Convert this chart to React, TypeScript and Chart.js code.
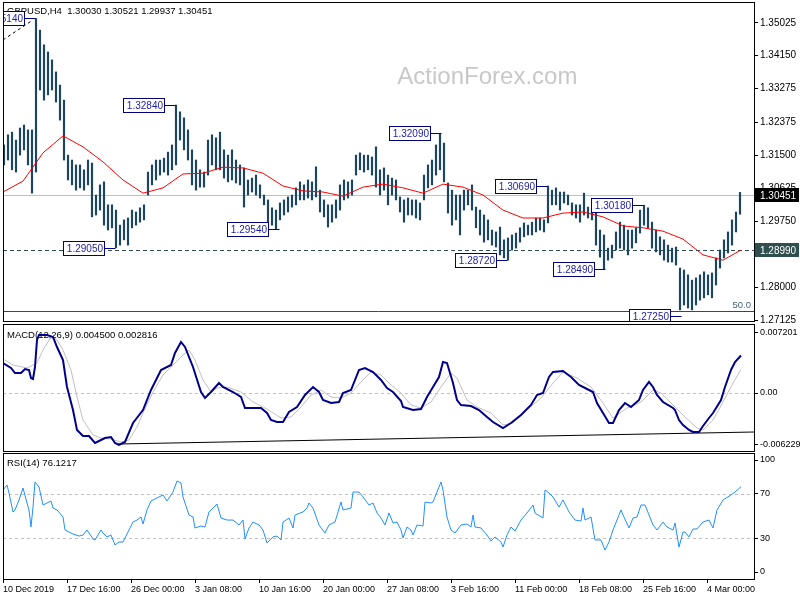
import React, { useEffect, useRef } from 'react';
import { Chart, registerables } from 'chart.js';

Chart.register(...registerables);

const FONT = '"Liberation Sans", Arial, Helvetica, sans-serif';

// ---------------- data ----------------
const symbolTitle = 'GBPUSD,H4';
const lastBarOHLC = [1.3003, 1.30521, 1.29937, 1.30451];
const watermark = 'ActionForex.com';

// 8-hour bars (each covers two H4 periods), high / low
const barHighs = [
  1.3178, 1.3205, 1.3212, 1.3191, 1.3223, 1.3231, 1.3218, 1.3218, 1.3514, 1.3483,
  1.3444, 1.3425, 1.3404, 1.3372, 1.3337, 1.3297, 1.3151, 1.3138, 1.3125, 1.3125,
  1.3112, 1.3138, 1.3130, 1.3045, 1.3072, 1.3080, 1.3019, 1.3019, 1.3005, 1.2965,
  1.2979, 1.2984, 1.3005, 1.3000, 1.3011, 1.3019, 1.3106, 1.3125, 1.3138, 1.3138,
  1.3143, 1.3159, 1.3178, 1.3284, 1.3266, 1.3250, 1.3218, 1.3165, 1.3138, 1.3112,
  1.3106, 1.3191, 1.3205, 1.3197, 1.3212, 1.3165, 1.3151, 1.3165, 1.3138, 1.3125,
  1.3117, 1.3085, 1.3090, 1.3098, 1.3072, 1.3045, 1.3032, 1.3011, 1.3005, 1.3024,
  1.3032, 1.3040, 1.3045, 1.3064, 1.3080, 1.3072, 1.3085, 1.3080, 1.3120, 1.3058,
  1.3032, 1.3019, 1.3019, 1.3032, 1.3072, 1.3085, 1.3080, 1.3085, 1.3151, 1.3157,
  1.3151, 1.3151, 1.3146, 1.3173, 1.3112, 1.3117, 1.3098, 1.3090, 1.3085, 1.3040,
  1.3032, 1.3037, 1.3032, 1.3032, 1.3024, 1.3098, 1.3125, 1.3138, 1.3178, 1.3209,
  1.3183, 1.3077, 1.3058, 1.3045, 1.3045, 1.3058, 1.3058, 1.3072, 1.3013, 1.3005,
  1.2992, 1.2979, 1.2952, 1.2947, 1.2960, 1.2926, 1.2931, 1.2939, 1.2944, 1.2958,
  1.2971, 1.2965, 1.2973, 1.2984, 1.2984, 1.2979, 1.3069, 1.3058, 1.3064, 1.3053,
  1.3053, 1.3045, 1.3024, 1.3019, 1.3019, 1.3050, 1.3013, 1.3011, 1.3000, 1.2952,
  1.2939, 1.2904, 1.2912, 1.2947, 1.2973, 1.2965, 1.2952, 1.2952, 1.2958, 1.3005,
  1.3018, 1.3011, 1.2973, 1.2952, 1.2934, 1.2926, 1.2912, 1.2904, 1.2907, 1.2851,
  1.2846, 1.2833, 1.2819, 1.2825, 1.2833, 1.2841, 1.2833, 1.2838, 1.2878, 1.2899,
  1.2926, 1.2947, 1.2979, 1.3000, 1.3052,
];
const barLows = [
  1.3125, 1.3138, 1.3112, 1.3106, 1.3151, 1.3165, 1.3125, 1.3050, 1.3106, 1.3324,
  1.3297, 1.3311, 1.3324, 1.3292, 1.3244, 1.3138, 1.3085, 1.3072, 1.3058, 1.3064,
  1.3058, 1.3072, 1.2987, 1.2992, 1.3005, 1.2965, 1.2952, 1.2958, 1.2905, 1.2912,
  1.2926, 1.2912, 1.2958, 1.2965, 1.2973, 1.2979, 1.3045, 1.3072, 1.3085, 1.3098,
  1.3106, 1.3098, 1.3112, 1.3125, 1.3191, 1.3165, 1.3138, 1.3072, 1.3058, 1.3066,
  1.3066, 1.3098, 1.3125, 1.3112, 1.3112, 1.3090, 1.3080, 1.3085, 1.3077, 1.3072,
  1.3013, 1.3045, 1.3053, 1.3045, 1.3037, 1.3019, 1.2958, 1.2965, 1.2954, 1.2979,
  1.2992, 1.3000, 1.3013, 1.3019, 1.3032, 1.3032, 1.3037, 1.3032, 1.3040, 1.3000,
  1.2987, 1.2960, 1.2973, 1.2984, 1.3005, 1.3032, 1.3037, 1.3045, 1.3098, 1.3112,
  1.3106, 1.3112, 1.3098, 1.3066, 1.3045, 1.3058, 1.3019, 1.3045, 1.3032, 1.3000,
  1.2973, 1.2992, 1.2992, 1.2984, 1.2979, 1.3032, 1.3064, 1.3072, 1.3098, 1.3112,
  1.3080, 1.2997, 1.2965, 1.2979, 1.2939, 1.3005, 1.3019, 1.3005, 1.2958, 1.2939,
  1.2920, 1.2926, 1.2912, 1.2907, 1.2886, 1.2878, 1.2872, 1.2899, 1.2904, 1.2920,
  1.2934, 1.2939, 1.2939, 1.2947, 1.2952, 1.2947, 1.2971, 1.3019, 1.3019, 1.3005,
  1.3024, 1.3019, 1.2992, 1.2984, 1.2973, 1.2992, 1.2984, 1.2979, 1.2912, 1.2880,
  1.2849, 1.2872, 1.2878, 1.2899, 1.2904, 1.2899, 1.2886, 1.2904, 1.2918, 1.2944,
  1.2965, 1.2958, 1.2904, 1.2894, 1.2886, 1.2872, 1.2867, 1.2867, 1.2859, 1.2740,
  1.2753, 1.2745, 1.2740, 1.2753, 1.2766, 1.2772, 1.2780, 1.2772, 1.2806, 1.2851,
  1.2878, 1.2891, 1.2912, 1.2947, 1.2994,
];

// moving average (H4 bar index -> value)
const maIndex = [0, 10, 20, 30, 40, 50, 60, 70, 80, 90, 100, 110, 120, 130, 140, 150, 160, 170, 180, 190,
  200, 210, 220, 230, 240, 250, 260, 270, 280, 290, 300, 310, 320, 330, 340, 350, 360, 369];
const maValues = [1.3053, 1.3082, 1.3157, 1.3202, 1.3173, 1.3133, 1.3085, 1.3050, 1.3064, 1.3101,
  1.3103, 1.3119, 1.3117, 1.3103, 1.3069, 1.3056, 1.3053, 1.3042, 1.3066, 1.3074,
  1.3064, 1.3050, 1.3074, 1.3066, 1.3045, 1.3005, 1.2984, 1.2984, 1.2997, 1.3000,
  1.2987, 1.2963, 1.2958, 1.2949, 1.2928, 1.2886, 1.2872, 1.2899];

const priceTicks = [1.35025, 1.3415, 1.33275, 1.32375, 1.315, 1.30625, 1.2975, 1.28875, 1.28, 1.27125];
const bidPrice = 1.30451;
const supportLevel = 1.2899;
const fibLevel = 1.2737;
const fibLabel = '50.0';
const fibTrendIndex = [0, 15];
const fibTrendValues = [1.3457, 1.351];

// swing labels
const swingIndex = [16, 86, 56, 138, 219, 272, 252, 320, 301, 339];
const swingValues = [1.3514, 1.3284, 1.2905, 1.2954, 1.3209, 1.3069, 1.2872, 1.3018, 1.2849, 1.2725];

// MACD
const macdParams = '12,26,9';
const macdLast = 0.0045;
const signalLast = 0.002816;
const macdIndex = [0, 4, 6, 9, 11, 13, 14, 15, 16, 17, 18, 22, 25, 27, 30, 32, 35, 37, 40, 43,
  46, 49, 51, 54, 56, 58, 61, 65, 70, 74, 79, 84, 86, 89, 91, 95, 99, 101, 104, 108,
  110, 115, 119, 121, 125, 129, 132, 134, 137, 140, 143, 147, 151, 155, 158, 160, 164, 168, 170, 174,
  178, 181, 185, 189, 192, 195, 199, 200, 205, 209, 212, 215, 218, 220, 222, 225, 227, 229, 234, 238,
  242, 245, 250, 254, 259, 264, 267, 270, 273, 275, 280, 284, 288, 293, 295, 297, 300, 303, 305, 308,
  311, 314, 318, 320, 323, 325, 327, 330, 335, 336, 338, 340, 343, 345, 348, 350, 353, 355, 359, 361,
  364, 366, 369];
const macdValues = [0.0036, 0.003, 0.0024, 0.0024, 0.00288, 0.00276, 0.0018, 0.00168, 0.00312, 0.00636,
  0.00696, 0.00696, 0.00672, 0.00552, 0.00396, 0.00072, -0.00204, -0.00444, -0.00516, -0.00516,
  -0.006, -0.00564, -0.0054, -0.00528, -0.006, -0.00624, -0.00588, -0.0036, -0.00204, 0.00036,
  0.00276, 0.00336, 0.0048, 0.00612, 0.00552, 0.00312, 0.00012, -0.0006, 0.00012, 0.0012,
  0.00072, 0.00012, -0.00048, -0.0018, -0.0018, -0.0018, -0.0024, -0.00324, -0.00348, -0.00348,
  -0.00228, -0.00168, -0.00024, 0.00072, 0.00012, -0.00084, -0.0012, -0.00108, 0, 0.00036,
  0.00276, 0.003, 0.00252, 0.00156, 0.0006, 0.00012, -0.00096, -0.00168, -0.00204, -0.00192,
  -0.00048, 0.00072, 0.00192, 0.00372, 0.0036, 0.0012, -0.00084, -0.00144, -0.00156, -0.00204,
  -0.00288, -0.00348, -0.0042, -0.0036, -0.00264, -0.00144, -0.00024, 0, 0.00192, 0.00252,
  0.00264, 0.00192, 0.00096, 0.00036, 0.00012, -0.0012, -0.0024, -0.0036, -0.0036, -0.00204,
  -0.0012, -0.00168, -0.00084, 0.00036, 0.00132, 0.00072, -0.00024, -0.00108, -0.0018, -0.00204,
  -0.00324, -0.00384, -0.00444, -0.00468, -0.00468, -0.00396, -0.003, -0.0024, -0.00084, 0.00072,
  0.00276, 0.00372, 0.0045];
const signalIndex = [0, 5, 12, 17, 20, 24, 27, 30, 34, 37, 40, 45, 49, 54, 59, 63, 67, 70, 75, 80,
  85, 90, 93, 96, 100, 104, 107, 112, 119, 125, 132, 139, 144, 149, 154, 159, 164, 169, 174, 179,
  184, 189, 194, 199, 204, 209, 214, 219, 224, 227, 232, 237, 244, 250, 255, 262, 269, 275, 280, 287,
  294, 300, 305, 312, 319, 325, 329, 334, 340, 347, 350, 355, 360, 365, 369];
const signalValues = [0.00408, 0.00336, 0.003, 0.0036, 0.00516, 0.00672, 0.00636, 0.00516, 0.00276, -0.00048,
  -0.00324, -0.00504, -0.0054, -0.00552, -0.00588, -0.00564, -0.00408, -0.0024, 0.00012, 0.00216,
  0.00336, 0.00456, 0.00516, 0.00396, 0.00156, 0.00012, 0.0006, 0.00072, 0.00012, -0.00108,
  -0.00192, -0.003, -0.00288, -0.00168, -0.00024, 0.00036, -0.00048, -0.0006, 0, 0.00132,
  0.00252, 0.00216, 0.00096, 0, -0.00144, -0.0018, -0.00108, 0.00072, 0.0024, 0.0018,
  -0.00084, -0.00168, -0.0024, -0.00384, -0.0036, -0.00204, -0.0006, 0.0012, 0.00252, 0.0018,
  0.00072, -0.0012, -0.003, -0.0018, -0.00108, 0.00036, 0, -0.0012, -0.00264, -0.0042,
  -0.00444, -0.00324, -0.00108, 0.0012, 0.002816];
const macdTicks = [0.007201, 0, -0.006229];
const macdTrendIndex = [57.5, 375.5];
const macdTrendValues = [-0.00612, -0.00468];

// RSI
const rsiPeriod = 14;
const rsiLast = 76.1217;
const rsiIndex = [0, 2, 3, 5, 6, 8, 10, 12, 13, 14, 15, 16, 18, 20, 22, 24, 25, 27, 30, 31,
  34, 35, 38, 40, 42, 45, 46, 49, 50, 52, 54, 56, 58, 60, 63, 65, 67, 69, 70, 72,
  74, 77, 80, 82, 85, 87, 89, 90, 93, 95, 96, 99, 101, 103, 107, 109, 112, 115, 118, 120,
  121, 123, 125, 128, 130, 132, 135, 137, 139, 140, 143, 145, 146, 150, 152, 153, 155, 158, 161, 163,
  166, 169, 170, 174, 175, 178, 180, 183, 185, 187, 189, 191, 193, 195, 197, 199, 200, 202, 204, 205,
  207, 210, 211, 214, 215, 217, 219, 220, 222, 224, 226, 229, 232, 234, 235, 236, 239, 242, 244, 246,
  249, 250, 252, 254, 256, 259, 262, 265, 266, 270, 271, 273, 275, 278, 280, 283, 286, 289, 290, 291,
  294, 296, 299, 301, 303, 305, 309, 310, 313, 315, 317, 319, 321, 323, 325, 327, 330, 332, 335, 336,
  338, 340, 341, 343, 345, 347, 350, 353, 355, 357, 360, 364, 366, 369];
const rsiValues = [73.2, 77.7, 70.5, 53.6, 55.4, 64.3, 75, 61.6, 55.4, 40.2,
  58, 80.4, 75.9, 59.8, 61.6, 63.4, 57.1, 55.4, 49.1, 37.5,
  34.8, 33.9, 32.1, 33, 37.5, 29.5, 28.6, 37.5, 34.8, 31.3,
  33, 24.1, 26.8, 26.8, 37.5, 44.6, 46.4, 49.1, 42.9, 55.4,
  63.4, 66.1, 68.8, 63.4, 71.4, 81.3, 79.5, 67, 50.9, 49.1,
  39.3, 41.1, 40.2, 53.6, 60.7, 48.2, 46.4, 46.4, 42, 46.4,
  29.5, 39.3, 44.6, 42, 37.5, 25.9, 31.3, 32.1, 28.6, 44.6,
  48.2, 39.3, 50.9, 53.6, 57.1, 61.6, 57.1, 42, 34.8, 42,
  44.6, 62.5, 55.4, 57.1, 71.4, 71.4, 67, 59.8, 61.6, 52.7,
  48.2, 42, 52.7, 43.8, 44.6, 37.5, 30.4, 40.2, 37.5, 33,
  42, 41.1, 62.5, 61.6, 62.5, 71.4, 80.4, 73.2, 49.1, 37.5,
  34.8, 42, 42.9, 40.2, 50.9, 40.2, 39.3, 33, 27.7, 31.3,
  26.8, 22.3, 33, 40.2, 36.6, 46.4, 52.7, 59.8, 52.7, 48.2,
  73.2, 70.5, 67, 58, 64.3, 53.6, 46.4, 45.5, 57.1, 46.4,
  49.1, 28.6, 28.6, 19.6, 26.8, 37.5, 55.4, 50.9, 39.3, 48.2,
  49.1, 59.8, 59.8, 50.9, 42, 37.5, 44.6, 40.2, 37.5, 43.8,
  22.3, 35.7, 35.7, 31.3, 38.4, 38.4, 44.6, 46.4, 39.3, 55.4,
  64.3, 68.8, 71.4, 76.1217];
const rsiTicks = [100, 70, 30, 0];
const rsiLevels = [70, 30];

// time axis
const xTickIndex = [0, 32, 64, 96, 128, 160, 192, 224, 256, 288, 320, 352];
const xTickLabels = ['10 Dec 2019', '17 Dec 16:00', '26 Dec 00:00', '3 Jan 08:00', '10 Jan 16:00', '20 Jan 00:00',
  '27 Jan 08:00', '3 Feb 16:00', '11 Feb 00:00', '18 Feb 08:00', '25 Feb 16:00', '4 Mar 00:00'];

// axis ranges
const X_MIN = 0;
const X_MAX = 375.5;
const PRICE_MIN = 1.27078;
const PRICE_MAX = 1.35577;
const MACD_MIN = -0.00708;
const MACD_MAX = 0.00828;
const RSI_MIN = -7.14;
const RSI_MAX = 106.25;

// ---------------- helpers ----------------
const makeX = (show: boolean): any => ({
  type: 'linear',
  min: X_MIN,
  max: X_MAX,
  offset: false,
  display: show,
  afterBuildTicks: (s: any) => {
    s.ticks = xTickIndex.map((v) => ({ value: v }));
  },
  afterFit: (s: any) => {
    if (show) s.height = 20;
    s.paddingLeft = 0;
    s.paddingRight = 0;
  },
  ticks: {
    autoSkip: false,
    maxRotation: 0,
    minRotation: 0,
    align: 'start',
    padding: 1,
    color: '#000',
    font: { family: FONT, size: 9 },
    callback: (_v: any, i: number) => xTickLabels[i],
  },
  grid: { display: true, drawOnChartArea: false, drawTicks: true, tickLength: 3, color: '#000' },
  border: { display: false },
});

const makeY = (min: number, max: number, vals: number[], fmt: (v: number) => string, size: number): any => ({
  type: 'linear',
  position: 'right',
  min,
  max,
  afterBuildTicks: (s: any) => {
    s.ticks = vals.map((v) => ({ value: v }));
  },
  afterFit: (s: any) => {
    s.width = 46;
    s.paddingTop = 0;
    s.paddingBottom = 0;
  },
  ticks: { autoSkip: false, color: '#000', padding: 2, font: { family: FONT, size }, callback: (v: any) => fmt(Number(v)) },
  grid: { display: true, drawOnChartArea: false, drawTicks: true, tickLength: 4, color: '#000' },
  border: { display: false },
});

function hLine(ctx: CanvasRenderingContext2D, a: any, py: number, color: string, dash: number[]) {
  const yy = Math.round(py) + 0.5;
  ctx.save();
  ctx.strokeStyle = color;
  ctx.lineWidth = 1;
  ctx.setLineDash(dash);
  ctx.beginPath();
  ctx.moveTo(a.left, yy);
  ctx.lineTo(a.right, yy);
  ctx.stroke();
  ctx.restore();
}

function drawFrame(chart: any) {
  const { ctx, chartArea: a } = chart;
  ctx.save();
  ctx.strokeStyle = '#000';
  ctx.lineWidth = 1;
  ctx.setLineDash([]);
  ctx.strokeRect(Math.round(a.left) + 0.5, Math.round(a.top) + 0.5, Math.round(a.right - a.left), Math.round(a.bottom - a.top) - 1);
  ctx.restore();
}

function panelTitle(chart: any, text: string, dy: number) {
  const { ctx, chartArea: a } = chart;
  ctx.save();
  ctx.fillStyle = '#000';
  ctx.font = `9.5px ${FONT}`;
  ctx.textAlign = 'left';
  ctx.textBaseline = 'middle';
  ctx.fillText(text, a.left + 4, a.top + dy);
  ctx.restore();
}

const mainDecor = {
  id: 'mainDecor',
  beforeDatasetsDraw(chart: any) {
    const { ctx, chartArea: a, scales } = chart;
    const y = scales.y;
    ctx.save();
    ctx.fillStyle = '#c8c8c8';
    ctx.font = `24px ${FONT}`;
    ctx.textAlign = 'center';
    ctx.textBaseline = 'middle';
    ctx.fillText(watermark, a.left + (a.right - a.left) * 0.645, a.top + 75);
    ctx.restore();
    hLine(ctx, a, y.getPixelForValue(bidPrice), '#c0c0c0', []);
    hLine(ctx, a, y.getPixelForValue(supportLevel), '#2f4f4f', [4, 3]);
    hLine(ctx, a, y.getPixelForValue(fibLevel), '#2f4f4f', []);
    panelTitle(chart, `${symbolTitle}  ${lastBarOHLC.map((v) => v.toFixed(5)).join(' ')}`, 9);
  },
  afterDatasetsDraw(chart: any) {
    const { ctx, chartArea: a, scales } = chart;
    const x = scales.x;
    const y = scales.y;
    ctx.save();
    ctx.beginPath();
    ctx.rect(a.left, a.top, a.right - a.left, a.bottom - a.top);
    ctx.clip();
    ctx.font = `10px ${FONT}`;
    ctx.textBaseline = 'middle';
    swingValues.forEach((v, i) => {
      const px = Math.round(x.getPixelForValue(swingIndex[i]));
      const py = Math.round(y.getPixelForValue(v));
      const text = v.toFixed(5);
      const w = Math.ceil(ctx.measureText(text).width) + 5;
      const h = 15;
      const right = px - 10;
      const left = right - w;
      ctx.fillStyle = '#fff';
      ctx.fillRect(left, py - 7, w, h);
      ctx.strokeStyle = '#000080';
      ctx.lineWidth = 1;
      ctx.strokeRect(left + 0.5, py - 7 + 0.5, w - 1, h - 1);
      ctx.beginPath();
      ctx.moveTo(right, py + 0.5);
      ctx.lineTo(px + 0.5, py + 0.5);
      ctx.stroke();
      ctx.fillStyle = '#1c1ca8';
      ctx.textAlign = 'right';
      ctx.fillText(text, right - 2, py + 1);
    });
    const fy = Math.round(y.getPixelForValue(fibLevel));
    ctx.fillStyle = '#46657a';
    ctx.font = `9.5px ${FONT}`;
    ctx.textAlign = 'right';
    ctx.textBaseline = 'bottom';
    ctx.fillText(fibLabel, a.right - 3, fy - 1);
    ctx.restore();
  },
  afterDraw(chart: any) {
    const { ctx, chartArea: a, scales } = chart;
    const y = scales.y;
    drawFrame(chart);
    const box = (v: number, bg: string) => {
      const py = Math.round(y.getPixelForValue(v));
      ctx.save();
      ctx.fillStyle = bg;
      ctx.fillRect(a.right + 1, py - 7, 44, 14);
      ctx.fillStyle = '#fff';
      ctx.font = `10px ${FONT}`;
      ctx.textAlign = 'left';
      ctx.textBaseline = 'middle';
      ctx.fillText(v.toFixed(5), a.right + 6, py + 1);
      ctx.restore();
    };
    box(bidPrice, '#000');
    box(supportLevel, '#2f4f4f');
  },
};

const macdDecor = {
  id: 'macdDecor',
  beforeDatasetsDraw(chart: any) {
    const { ctx, chartArea: a, scales } = chart;
    hLine(ctx, a, scales.y.getPixelForValue(0), '#c0c0c0', [3, 3]);
    panelTitle(chart, `MACD(${macdParams}) ${macdLast.toFixed(6)} ${signalLast.toFixed(6)}`, 11);
  },
  afterDraw(chart: any) {
    drawFrame(chart);
  },
};

const rsiDecor = {
  id: 'rsiDecor',
  beforeDatasetsDraw(chart: any) {
    const { ctx, chartArea: a, scales } = chart;
    rsiLevels.forEach((lv) => hLine(ctx, a, scales.y.getPixelForValue(lv), '#c0c0c0', [3, 3]));
    panelTitle(chart, `RSI(${rsiPeriod}) ${rsiLast.toFixed(4)}`, 10);
  },
  afterDraw(chart: any) {
    drawFrame(chart);
  },
};

const baseOptions = (padding: any): any => ({
  responsive: false,
  maintainAspectRatio: false,
  animation: false,
  events: [],
  layout: { padding },
  plugins: { legend: { display: false }, tooltip: { enabled: false }, title: { display: false } },
});

const pts = (xs: number[], ys: number[]) => xs.map((x, i) => ({ x, y: ys[i] }));

export default function App() {
  const mainRef = useRef<HTMLCanvasElement>(null);
  const macdRef = useRef<HTMLCanvasElement>(null);
  const rsiRef = useRef<HTMLCanvasElement>(null);

  useEffect(() => {
    const charts: Chart[] = [];

    const mainOpts = baseOptions({ left: 3, top: 2, right: 0, bottom: 1 });
    mainOpts.scales = {
      x: makeX(false),
      y: makeY(PRICE_MIN, PRICE_MAX, priceTicks, (v) => v.toFixed(5), 10),
    };
    charts.push(
      new Chart(mainRef.current as HTMLCanvasElement, {
        type: 'bar',
        data: {
          datasets: [
            {
              type: 'line',
              data: pts(maIndex, maValues),
              borderColor: '#ff0000',
              borderWidth: 1,
              pointRadius: 0,
              tension: 0,
              order: 0,
            } as any,
            {
              type: 'line',
              data: pts(fibTrendIndex, fibTrendValues),
              borderColor: '#000',
              borderWidth: 1,
              borderDash: [3, 3],
              pointRadius: 0,
              order: 0,
            } as any,
            {
              type: 'bar',
              data: barHighs.map((h, i) => ({ x: 2 * i + 0.5, y: [barLows[i], h] })),
              backgroundColor: '#1b4560',
              barThickness: 1.5,
              borderWidth: 0,
              order: 1,
            } as any,
          ],
        },
        options: mainOpts,
        plugins: [mainDecor],
      })
    );

    const macdOpts = baseOptions({ left: 3, top: 1, right: 0, bottom: 0 });
    macdOpts.scales = {
      x: makeX(false),
      y: makeY(MACD_MIN, MACD_MAX, macdTicks, (v) => (v === 0 ? '0.00' : v.toFixed(6)), 9),
    };
    charts.push(
      new Chart(macdRef.current as HTMLCanvasElement, {
        type: 'line',
        data: {
          datasets: [
            { data: pts(macdIndex, macdValues), borderColor: '#00008b', borderWidth: 2, pointRadius: 0, tension: 0, order: 0 } as any,
            { data: pts(signalIndex, signalValues), borderColor: '#c0c0c0', borderWidth: 1, pointRadius: 0, tension: 0, order: 1 } as any,
            { data: pts(macdTrendIndex, macdTrendValues), borderColor: '#000', borderWidth: 1, pointRadius: 0, tension: 0, order: 2 } as any,
          ],
        },
        options: macdOpts,
        plugins: [macdDecor],
      })
    );

    const rsiOpts = baseOptions({ left: 3, top: 1, right: 0, bottom: 0 });
    rsiOpts.scales = {
      x: makeX(true),
      y: makeY(RSI_MIN, RSI_MAX, rsiTicks, (v) => String(v), 9),
    };
    charts.push(
      new Chart(rsiRef.current as HTMLCanvasElement, {
        type: 'line',
        data: {
          datasets: [
            { data: pts(rsiIndex, rsiValues), borderColor: '#1e90ff', borderWidth: 1, pointRadius: 0, tension: 0 } as any,
          ],
        },
        options: rsiOpts,
        plugins: [rsiDecor],
      })
    );

    return () => charts.forEach((c) => c.destroy());
  }, []);

  return (
    <div style={{ position: 'absolute', left: 0, top: 0, width: 800, height: 600, background: '#fff', overflow: 'hidden' }}>
      <canvas ref={mainRef} width={800} height={323} style={{ position: 'absolute', left: 0, top: 0 }} />
      <canvas ref={macdRef} width={800} height={129} style={{ position: 'absolute', left: 0, top: 323 }} />
      <canvas ref={rsiRef} width={800} height={148} style={{ position: 'absolute', left: 0, top: 452 }} />
    </div>
  );
}
